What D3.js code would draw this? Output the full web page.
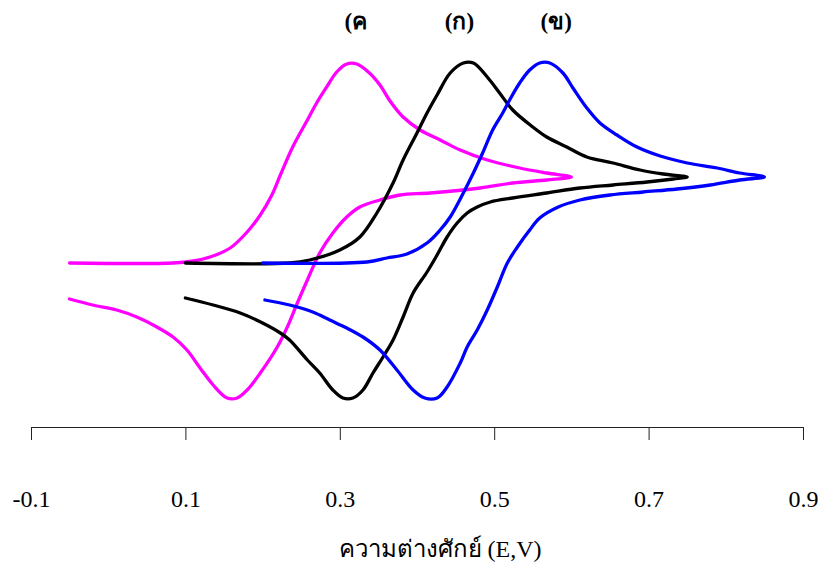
<!DOCTYPE html>
<html lang="th">
  <head>
    <title>cyclic voltammogram</title>
    <meta charset="utf-8">
    <style>
      body { margin: 0; background: #fff; }
      svg { display: block; }
    </style>
  </head>
  <body>
<svg width="819" height="564"></svg>
<script src="https://cdn.jsdelivr.net/npm/d3@7"></script>
<script>

// potential E (V), current I (arbitrary units)
// curve (ค) - magenta
var curveKho = [
  [-0.05,0],[0.084,0],[0.110,0.2],[0.132,0.6],[0.158,1.5],[0.180,3.1],[0.197,4.8],[0.212,6.8],
  [0.223,8.8],[0.239,11.6],[0.258,14.3],[0.270,16.0],[0.283,17.6],[0.296,19.1],[0.309,19.9],
  [0.322,19.9],[0.337,19.1],[0.352,17.8],[0.365,16.2],[0.382,14.6],[0.404,13.3],[0.430,12.3],
  [0.456,11.3],[0.491,10.3],[0.533,9.5],[0.568,9.0],[0.60,8.6],
  [0.568,8.3],[0.524,8.0],[0.482,7.5],[0.417,7.0],[0.378,6.8],[0.352,6.3],[0.326,5.6],
  [0.309,4.6],[0.291,3.0],[0.274,1.0],[0.258,-1.7],[0.245,-4.0],[0.232,-6.4],[0.219,-8.4],
  [0.197,-11.0],[0.180,-12.7],[0.167,-13.5],[0.154,-13.5],[0.136,-12.2],[0.119,-10.5],
  [0.102,-8.7],[0.084,-7.4],[0.063,-6.4],[0.037,-5.4],[0.011,-4.7],[-0.020,-4.2],[-0.05,-3.6]
];

// curve (ก) - black
var curveKo = [
  [0.10,0],[0.235,0],[0.261,0.3],[0.300,1.3],[0.326,2.6],[0.348,5.0],[0.369,8.0],[0.382,10.3],
  [0.400,13.0],[0.413,15.0],[0.426,16.8],[0.443,19.0],[0.460,20.0],[0.473,20.0],[0.491,18.6],
  [0.507,17.0],[0.524,15.3],[0.550,13.6],[0.568,12.6],[0.594,11.6],[0.620,10.6],[0.654,10.0],
  [0.689,9.3],[0.719,8.9],[0.75,8.6],
  [0.732,8.4],[0.698,8.1],[0.654,7.8],[0.611,7.5],[0.568,7.0],[0.524,6.5],[0.495,6.1],
  [0.478,5.6],[0.465,5.0],[0.452,4.0],[0.439,2.6],[0.426,0.8],[0.413,-0.9],[0.395,-3.0],
  [0.382,-5.4],[0.369,-7.7],[0.356,-9.4],[0.343,-11.0],[0.330,-12.7],[0.317,-13.5],
  [0.304,-13.5],[0.291,-12.7],[0.274,-11.0],[0.258,-9.7],[0.235,-7.7],[0.223,-7.0],
  [0.200,-6.0],[0.171,-5.0],[0.136,-4.2],[0.10,-3.5]
];

// curve (ข) - blue
var curveKhai = [
  [0.20,0],[0.335,0.1],[0.361,0.5],[0.387,0.9],[0.413,2.0],[0.430,3.3],[0.443,4.6],[0.460,7.0],
  [0.473,9.0],[0.485,11.0],[0.498,13.3],[0.511,15.0],[0.520,16.3],[0.533,18.0],[0.546,19.3],
  [0.559,20.0],[0.572,20.0],[0.589,19.0],[0.602,17.5],[0.620,15.5],[0.637,14.0],[0.659,12.8],
  [0.685,11.6],[0.715,10.7],[0.750,10.0],[0.789,9.5],[0.818,9.0],[0.85,8.6],
  [0.818,8.3],[0.780,7.8],[0.737,7.4],[0.693,7.1],[0.650,6.8],[0.611,6.3],[0.583,5.6],
  [0.559,4.5],[0.546,3.3],[0.530,1.6],[0.517,0],[0.504,-2.4],[0.491,-4.7],
  [0.478,-6.7],[0.465,-8.4],[0.456,-10.0],[0.439,-12.4],[0.426,-13.5],[0.410,-13.5],
  [0.395,-12.7],[0.374,-10.7],[0.352,-8.7],[0.330,-7.4],[0.309,-6.5],[0.287,-5.7],
  [0.265,-4.9],[0.235,-4.2],[0.203,-3.7]
];

var seriesNames = ["(ค", "(ก)", "(ข)"];
var xTicks = [-0.1, 0.1, 0.3, 0.5, 0.7, 0.9];
var xTitle = "ความต่างศักย์ (E,V)";

var svg = d3.select("svg"),
    width = +svg.attr("width"),
    height = +svg.attr("height");

var axisY = 427;
var serif = "'Liberation Serif', 'Times New Roman', serif";

var x = d3.scaleLinear().domain([-0.1, 0.9]).range([31, 803]);
var y = d3.scaleLinear().domain([-17, 20]).range([433, 63]);

var series = [
  {name: seriesNames[0], data: curveKho, color: "#ff00ff", labelE: 0.306},
  {name: seriesNames[1], data: curveKo, color: "#000000", labelE: 0.436},
  {name: seriesNames[2], data: curveKhai, color: "#0000ff", labelE: 0.560}
];

var line = d3.line()
    .curve(d3.curveCatmullRom.alpha(0.5))
    .x(function(d) { return x(d[0]); })
    .y(function(d) { return y(d[1]); });

svg.selectAll("path.cv")
    .data(series)
  .enter().append("path")
    .attr("class", "cv")
    .attr("d", function(d) { return line(d.data); })
    .attr("fill", "none")
    .attr("stroke", function(d) { return d.color; })
    .attr("stroke-width", 3.3)
    .attr("stroke-linejoin", "round")
    .attr("stroke-linecap", "round");

// x axis
var xAxis = d3.axisBottom(x)
    .tickValues(xTicks)
    .tickSize(13)
    .tickSizeOuter(0)
    .tickPadding(50)
    .tickFormat(function(d) { return d3.format(".1f")(d).replace("−", "-"); });

var gx = svg.append("g")
    .attr("transform", "translate(0," + axisY + ")")
    .call(xAxis);

gx.select(".domain").attr("stroke", "#222").attr("stroke-width", 1);
gx.selectAll(".tick line").attr("stroke", "#222").attr("stroke-width", 1);
gx.selectAll(".tick text")
    .attr("fill", "#000")
    .style("font-family", serif)
    .style("font-size", "24px");

svg.append("text")
    .attr("x", 440)
    .attr("y", 557)
    .attr("text-anchor", "middle")
    .style("font-family", serif)
    .style("font-size", "24px")
    .text(xTitle);

// curve labels above the peaks
svg.selectAll("text.lbl")
    .data(series)
  .enter().append("text")
    .attr("class", "lbl")
    .attr("x", function(d) { return x(d.labelE); })
    .attr("y", 29)
    .style("font-family", serif)
    .style("font-size", "23px")
    .style("font-weight", "bold")
    .text(function(d) { return d.name; });

</script>
  </body>
</html>
